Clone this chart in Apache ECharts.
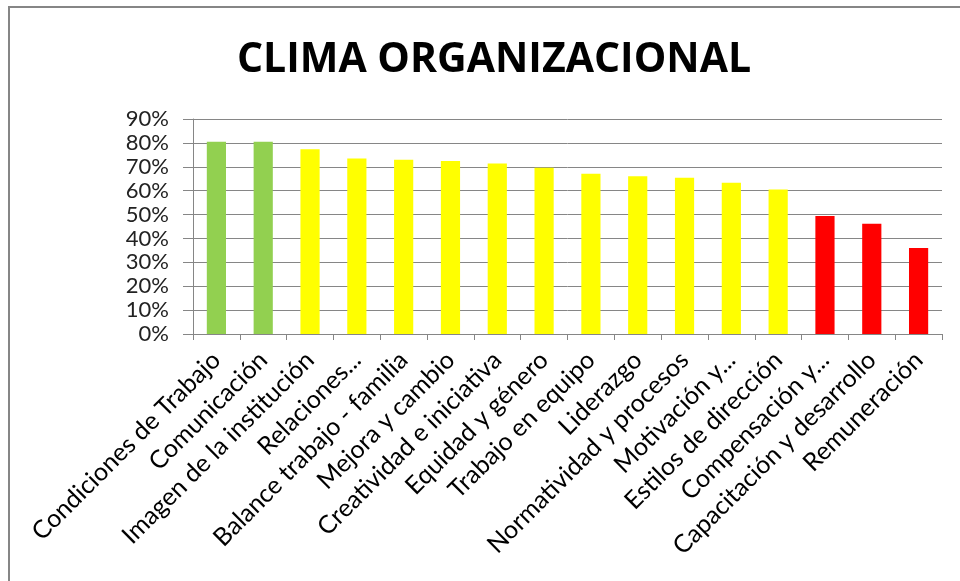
<!DOCTYPE html>
<html>
<head>
<meta charset="utf-8">
<script src="https://cdn.jsdelivr.net/npm/echarts@6/dist/echarts.min.js"></script>
<style>
  html, body { margin: 0; padding: 0; background: #fff; }
  #chart { width: 960px; height: 581px; }
</style>
</head>
<body>
<div id="chart"></div>
<script>
const categories = [
  'Condiciones de Trabajo', 'Comunicación', 'Imagen de la institución', 'Relaciones...',
  'Balance trabajo - familia', 'Mejora y cambio', 'Creatividad e iniciativa', 'Equidad y género',
  'Trabajo en equipo', 'Liderazgo', 'Normatividad y procesos', 'Motivación y...',
  'Estilos de dirección', 'Compensación y...', 'Capacitación y desarrollo', 'Remuneración'
]
const values = [80.5, 80.5, 77.3, 73.5, 72.9, 72.4, 71.4, 69.6, 67.1, 66.0, 65.4, 63.3, 60.5, 49.4, 46.2, 36.0]
// semaforo: verde / amarillo / rojo
const levels = ['g', 'g', 'y', 'y', 'y', 'y', 'y', 'y', 'y', 'y', 'y', 'y', 'y', 'r', 'r', 'r']
const levelColors = { g: '#92D050', y: '#FFFF00', r: '#FF0000' }

const chart = echarts.init(document.getElementById('chart'))

chart.setOption({
  backgroundColor: '#fff',
  animation: false,
  title: {
    text: 'CLIMA ORGANIZACIONAL',
    left: 489,
    textAlign: 'center',
    top: 35,
    textStyle: {
      fontFamily: 'Open Sans',
      fontWeight: 'bold',
      fontSize: 41,
      color: '#000'
    }
  },
  graphic: [
    {
      type: 'polyline',
      shape: { points: [[9, 581], [9, 7], [960, 7]] },
      style: { stroke: '#868686', lineWidth: 2, fill: null }
    }
  ],
  grid: {
    left: 193,
    right: 18,
    top: 119,
    bottom: 247
  },
  xAxis: {
    type: 'category',
    data: categories,
    axisLine: { lineStyle: { color: '#868686', width: 1 } },
    axisTick: { show: true, length: 6, lineStyle: { color: '#868686' } },
    axisLabel: {
      interval: 0,
      rotate: 45,
      margin: 22,
      fontFamily: 'Lato',
      fontSize: 25,
      color: '#000'
    }
  },
  yAxis: {
    type: 'value',
    min: 0,
    max: 90,
    interval: 10,
    axisLine: { show: true, lineStyle: { color: '#868686', width: 1 } },
    axisTick: { show: true, length: 10, lineStyle: { color: '#868686' } },
    splitLine: { lineStyle: { color: '#868686', width: 1 } },
    axisLabel: {
      margin: 24,
      fontFamily: 'Lato',
      fontSize: 22,
      color: '#222',
      formatter: '{value}%'
    }
  },
  series: [
    {
      type: 'bar',
      barWidth: '41%',
      data: values.map((v, i) => ({
        value: v,
        itemStyle: { color: levelColors[levels[i]] }
      }))
    }
  ]
})
</script>
</body>
</html>
